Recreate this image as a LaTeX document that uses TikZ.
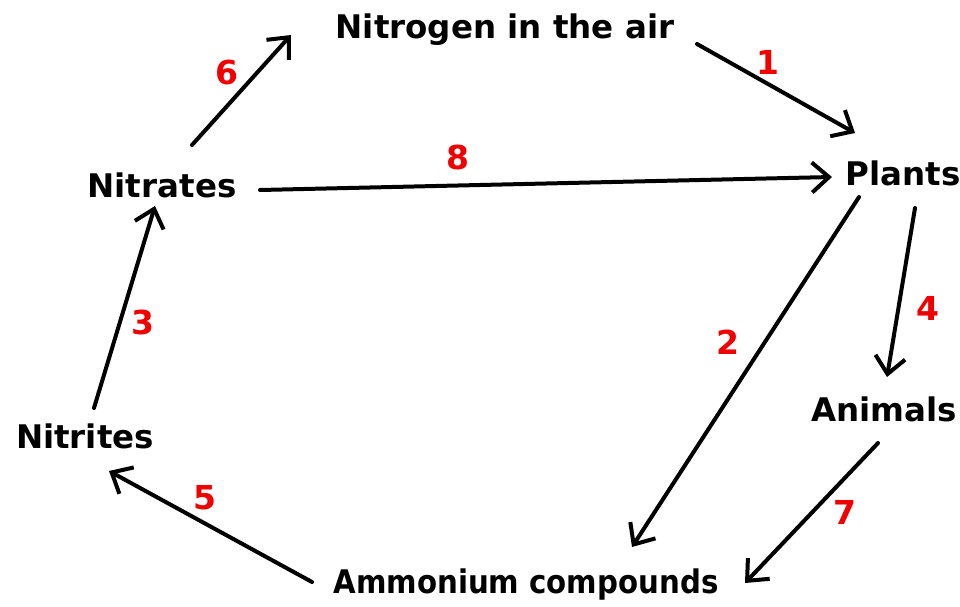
\documentclass[tikz,border=0pt]{standalone}
\usepackage{fontspec}
\setmainfont{DejaVu Sans}
\usetikzlibrary{arrows.meta}
\definecolor{numred}{RGB}{240,0,0}
\tikzset{
  lbl/.style={font=\fontsize{32.5}{36}\selectfont\bfseries, inner sep=0pt, anchor=center},
  num/.style={font=\fontsize{33}{36}\selectfont\bfseries, text=numred, inner sep=0pt, anchor=center},
  arr/.style={line width=4pt, -{Straight Barb[length=17pt,width=30pt,line width=4pt]}, line cap=round}
}
\begin{document}
\begin{tikzpicture}[x=1pt,y=-1pt]
\useasboundingbox (0,0) rectangle (960,607);
\node[lbl] (air) at (505,30) {Nitrogen in the air};
\node[lbl] (plants) at (903,173) {Plants};
\node[lbl] (nitrates) at (162,185) {Nitrates};
\node[lbl] (animals) at (884,409) {Animals};
\node[lbl] (nitrites) at (85,436) {Nitrites};
\node[lbl] (amm) at (526,585) {\scalebox{0.9}[1]{Ammonium compounds}};
% arrow end points
\coordinate (s1) at (697,44);  \coordinate (e1) at (855,133);
\coordinate (s6) at (192,145); \coordinate (e6) at (291,35);
\coordinate (s8) at (260,190); \coordinate (e8) at (832,177);
\coordinate (s2) at (859,197); \coordinate (e2) at (632,547);
\coordinate (s4) at (915,208); \coordinate (e4) at (887,377);
\coordinate (s7) at (878,443); \coordinate (e7) at (745,583);
\coordinate (s5) at (312,582); \coordinate (e5) at (109,471);
\coordinate (s3) at (94,408);  \coordinate (e3) at (155,206);
\draw[arr] (s1) -- (e1);
\draw[arr] (s6) -- (e6);
\draw[arr] (s8) -- (e8);
\draw[arr] (s2) -- (e2);
\draw[arr] (s4) -- (e4);
\draw[arr] (s7) -- (e7);
\draw[arr] (s5) -- (e5);
\draw[arr] (s3) -- (e3);
\node[num] (n1) at (768,62) {1};
\node[num] (n6) at (227,73) {6};
\node[num] (n8) at (458,157) {8};
\node[num] (n2) at (728,342) {2};
\node[num] (n4) at (928,308) {4};
\node[num] (n7) at (845,512) {7};
\node[num] (n5) at (205,498) {5};
\node[num] (n3) at (143,322) {3};
\end{tikzpicture}
\end{document}
